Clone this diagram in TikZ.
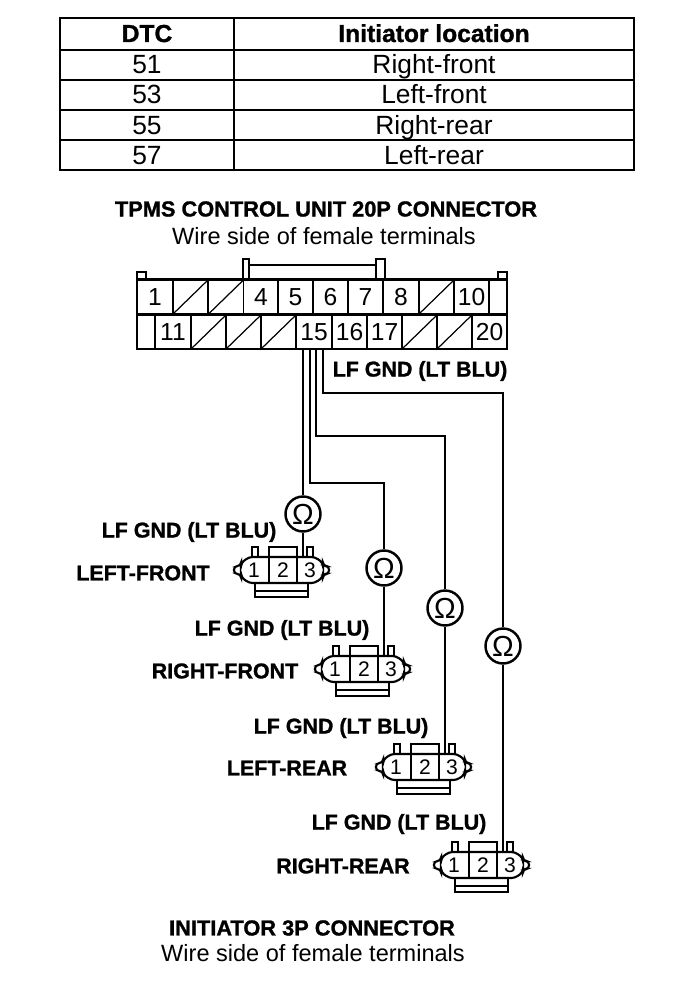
\documentclass[tikz,border=0pt]{standalone}
\usepackage{fontspec}
\setmainfont{Liberation Sans}[BoldFeatures={FakeBold=1.2}]
\usetikzlibrary{positioning}

\tikzset{
    head/.style={font=\fontsize{12.4}{15}\selectfont\bfseries,inner sep=0pt},
    plain/.style={font=\fontsize{13.4}{15}\selectfont,inner sep=0pt},
    tablehead/.style={font=\fontsize{14}{16}\selectfont\bfseries,inner sep=0pt,anchor=base},
    tablerow/.style={font=\fontsize{15}{17}\selectfont,inner sep=0pt,anchor=base},
    wirelabel/.style={font=\fontsize{12.2}{14}\selectfont\bfseries,inner sep=0pt},
    cellbox/.style={draw,line width=0.8pt,minimum width=0.7cm,minimum height=0.68cm,inner sep=0pt,
        font=\fontsize{14}{15}\selectfont},
    sidebox/.style={cellbox,minimum width=0.36cm},
    ohm/.style={circle,draw,line width=1.4pt,minimum size=0.7cm,inner sep=0pt,fill=white,
        font=\fontsize{16.5}{18}\selectfont},
    wire/.style={line width=0.9pt},
    initiator/.pic={
        \draw[line width=1.2pt,rounded corners=2pt] (-34,-13) -- (32,-13) -- (40,-7) -- (40,-4) -- (46,-4) -- (46,4)
            -- (40,4) -- (40,7) -- (32,13) -- (-34,13) -- (-42,7) -- (-42,4) -- (-49,4) -- (-49,-4) -- (-42,-4)
            -- (-42,-7) -- cycle;
        \draw[line width=1.1pt] (-14,-13) -- (-14,13) (14,-13) -- (14,13);
        \draw[line width=1.1pt] (-14,-13) -- (-14,-23) -- (14,-23) -- (14,-13);
        \draw[line width=1.1pt] (-31,-13) -- (-31,-23) -- (-25,-23) -- (-25,-13);
        \draw[line width=1.1pt] (24,-13) -- (24,-23) -- (30,-23) -- (30,-13);
        \draw[line width=1.2pt] (-28,13) -- (-28,27) -- (25,27) -- (25,13);
        \draw[line width=0.8pt] (-28,21) -- (25,21);
        \node[font=\fontsize{12}{13}\selectfont] at (-29,0) {1};
        \node[font=\fontsize{12}{13}\selectfont] at (0,0) {2};
        \node[font=\fontsize{12}{13}\selectfont] at (27,0) {3};
    }
}

\begin{document}
\begin{tikzpicture}[x=0.02cm,y=-0.02cm]
    \useasboundingbox (0,0) rectangle (688,990);

    % table
    \node[tablehead] (dtc) at (147,42) {DTC};
    \node[tablehead] (loc) at (434,42) {Initiator location};
    \foreach \code/\place/\y in {51/Right-front/73,53/Left-front/104,55/Right-rear/134,57/Left-rear/164} {
        \node[tablerow] (code\code) at (147,\y) {\code};
        \node[tablerow] (place\code) at (434,\y) {\place};
    }
    \draw[line width=1.1pt] (60,18) rectangle (634,170);
    \draw[line width=0.8pt] (234,18) -- (234,170);
    \foreach \y in {50,80,110,140}
        \draw[line width=0.7pt] (60,\y) -- (634,\y);

    \node[head] (title) at (326,209) {TPMS CONTROL UNIT 20P CONNECTOR};
    \node[plain] (side) at (324,236) {Wire side of female terminals};

    % 20P connector
    \foreach \n/\x in {1/155,4/261,5/295.5,6/330.5,7/365.5,8/401,10/471.5}
        \node[cellbox] (cell\n) at (\x,297) {\n};
    \foreach \n/\x in {11/173,15/314,16/349.5,17/384.5,20/489.5}
        \node[cellbox] (cell\n) at (\x,332) {\n};
    \foreach \n/\x/\y in {2/190.5/297,3/226/297,9/436.5/297,12/208.5/332,13/243.5/332,14/278.5/332,18/419.5/332,19/454.5/332} {
        \node[cellbox] (cell\n) at (\x,\y) {};
        \draw[line width=0.7pt] (cell\n.south west) -- (cell\n.north east);
    }
    \node[sidebox] (blanka) at (498,297) {};
    \node[sidebox] (blankb) at (146,332) {};
    \draw[line width=1.6pt] (137,279) rectangle (507,349);
    \draw[line width=1.1pt] (137,279) -- (137,272) -- (146,272) -- (146,279);
    \draw[line width=1.1pt] (498,279) -- (498,272) -- (507,272) -- (507,279);
    \draw[line width=1.1pt] (243,279) -- (243,259) -- (249,259) -- (249,279);
    \draw[line width=1.1pt] (376,279) -- (376,259) -- (385,259) -- (385,279);
    \draw[line width=1.1pt] (249,265) -- (376,265);

    \node[wirelabel] (lfgnd) at (420,371) {LF GND (LT BLU)};

    % ohmmeters
    \node[ohm] (ohma) at (303,514) {Ω};
    \node[ohm] (ohmb) at (384,568) {Ω};
    \node[ohm] (ohmc) at (445,608) {Ω};
    \node[ohm] (ohmd) at (503,646) {Ω};

    % initiators
    \pic (inita) at (283,570) {initiator};
    \pic (initb) at (364,669) {initiator};
    \pic (initc) at (425,767) {initiator};
    \pic (initd) at (483,865) {initiator};

    \coordinate (pina) at (303,557);
    \coordinate (pinb) at (384,656);
    \coordinate (pinc) at (445,754);
    \coordinate (pind) at (503,852);
    \coordinate (outa) at (303,349);
    \coordinate (outb) at (310,349);
    \coordinate (outc) at (316,349);
    \coordinate (outd) at (323,349);

    \draw[wire] (outa) -- (ohma) (ohma) -- (pina);
    \draw[wire] (outb) |- (384,483) -- (ohmb) (ohmb) -- (pinb);
    \draw[wire] (outc) |- (445,436) -- (ohmc) (ohmc) -- (pinc);
    \draw[wire] (outd) |- (503,393) -- (ohmd) (ohmd) -- (pind);

    \node[wirelabel] (gnda) at (189,532) {LF GND (LT BLU)};
    \node[wirelabel] (gndb) at (282,630) {LF GND (LT BLU)};
    \node[wirelabel] (gndc) at (341,728) {LF GND (LT BLU)};
    \node[wirelabel] (gndd) at (399,824) {LF GND (LT BLU)};
    \node[wirelabel] (namea) at (143,573) {LEFT-FRONT};
    \node[wirelabel] (nameb) at (225,671) {RIGHT-FRONT};
    \node[wirelabel] (namec) at (287,768) {LEFT-REAR};
    \node[wirelabel] (named) at (343,866) {RIGHT-REAR};

    \node[head] (foot) at (312,928) {INITIATOR 3P CONNECTOR};
    \node[plain] (footside) at (313,953) {Wire side of female terminals};
\end{tikzpicture}
\end{document}
